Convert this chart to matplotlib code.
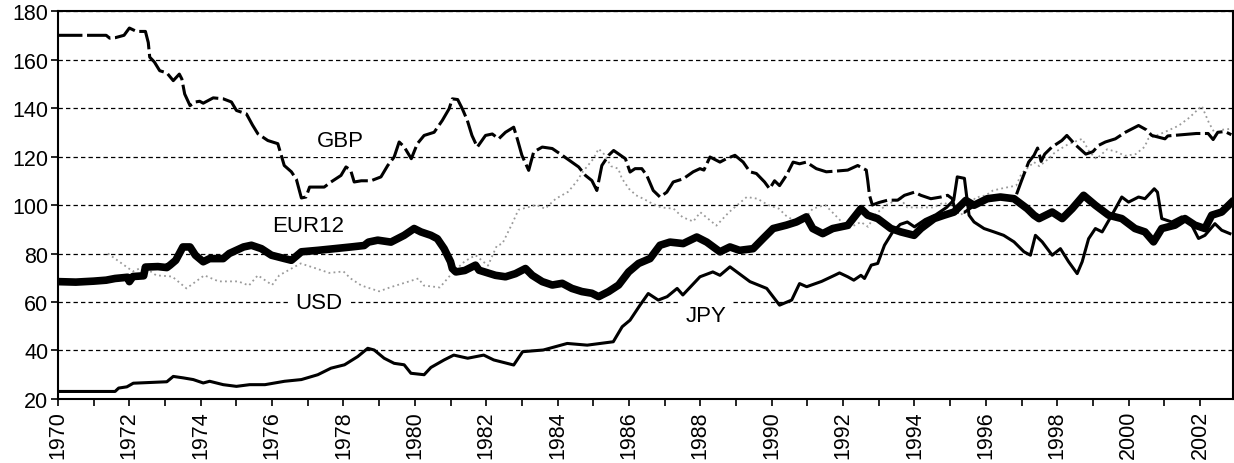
import matplotlib

matplotlib.use("Agg")
import matplotlib.pyplot as plt

plt.rcParams["font.family"] = ["Liberation Sans", "DejaVu Sans"]

# series (year, index)
gbp_years = [1970.0, 1970.5, 1971.0, 1971.35, 1971.45, 1971.6, 1971.85, 1972.0, 1972.2, 1972.45,
             1972.53, 1972.57, 1972.7, 1972.85, 1973.05, 1973.23, 1973.4, 1973.47, 1973.55, 1973.7,
             1973.85, 1973.97, 1974.07, 1974.35, 1974.63, 1974.86, 1975.0, 1975.28, 1975.45, 1975.6,
             1975.88, 1976.16, 1976.34, 1976.54, 1976.68, 1976.82, 1976.95, 1977.05, 1977.46, 1977.65,
             1977.93, 1978.07, 1978.2, 1978.3, 1978.5, 1978.77, 1979.05, 1979.24, 1979.42, 1979.56,
             1979.7, 1979.9, 1980.07, 1980.26, 1980.54, 1980.77, 1980.96, 1981.05, 1981.2, 1981.33,
             1981.47, 1981.6, 1981.75, 1981.98, 1982.17, 1982.35, 1982.54, 1982.77, 1982.87, 1983.0,
             1983.19, 1983.33, 1983.57, 1983.85, 1984.13, 1984.4, 1984.59, 1984.78, 1984.96, 1985.1,
             1985.24, 1985.43, 1985.57, 1985.9, 1986.03, 1986.17, 1986.36, 1986.5, 1986.68, 1986.87,
             1987.06, 1987.24, 1987.52, 1987.8, 1987.99, 1988.1, 1988.27, 1988.55, 1988.73, 1988.97,
             1989.2, 1989.39, 1989.57, 1989.8, 1989.94, 1990.08, 1990.22, 1990.41, 1990.6, 1990.78,
             1990.97, 1991.25, 1991.53, 1991.81, 1992.13, 1992.41, 1992.65, 1992.69, 1992.74, 1992.82,
             1993.0, 1993.25, 1993.53, 1993.72, 1994.0, 1994.18, 1994.46, 1994.74, 1994.93, 1995.06,
             1995.15, 1995.4, 1995.6, 1995.8, 1996.0, 1996.3, 1996.6, 1996.85, 1997.0, 1997.2,
             1997.35, 1997.45, 1997.55, 1997.65, 1997.85, 1998.13, 1998.27, 1998.5, 1998.8, 1999.0,
             1999.16, 1999.35, 1999.63, 1999.91, 2000.28, 2000.5, 2000.65, 2001.02, 2001.1, 2001.5,
             2001.9, 2002.23, 2002.37, 2002.5, 2002.7, 2002.88]
gbp_values = [170, 170, 170, 170, 168.8, 169, 170, 173, 171.6, 171.6,
              167, 161, 159, 155.4, 154.5, 151.3, 154, 152, 145.8, 141,
              142.5, 142.8, 142, 144.2, 143.8, 142.5, 139, 137.6, 133, 129.4,
              126.6, 125.3, 116.3, 113.7, 110.6, 102.9, 103.3, 107.4, 107.4, 109.5,
              112.2, 115.7, 114.4, 109.5, 110, 110, 111.6, 116.3, 119.8, 126,
              124, 119.1, 125.3, 128.7, 130, 134.9, 139.7, 143.8, 143.5, 139.7,
              134.9, 128.7, 123.9, 128.7, 129.3, 127.3, 130, 132.1, 127.3, 120.5,
              114.3, 121.9, 123.9, 123.3, 120.5, 117.7, 115.7, 112.2, 110.1, 106,
              116.3, 120.5, 122.5, 119.1, 113.6, 115, 115, 112.2, 106, 103.3,
              105.3, 109.5, 110.8, 113.7, 115, 114.4, 119.8, 117.7, 119.1, 120.5,
              117.7, 113.7, 113, 109.5, 106.7, 110, 108, 112.2, 117.7, 117,
              117.7, 115, 113.7, 114, 114.4, 116.3, 114.4, 110.2, 104, 100,
              101, 102, 102, 104, 105.3, 104, 102.6, 103.3, 104, 102.6,
              97.2, 97, 99, 101, 102, 103, 102.5, 104, 110, 117.7,
              120.5, 123.5, 118, 121, 123.9, 126.6, 128.7, 125, 121, 122,
              124.6, 126, 127.3, 130, 132.8, 131, 128.7, 127.3, 128.5, 129,
              129.5, 129.5, 127, 130, 130.3, 129]

eur_years = [1970.0, 1970.5, 1971.0, 1971.35, 1971.6, 1971.95, 1972.0, 1972.1, 1972.4, 1972.45,
             1972.8, 1973.05, 1973.14, 1973.3, 1973.5, 1973.7, 1973.85, 1974.07, 1974.25, 1974.63,
             1974.8, 1975.2, 1975.42, 1975.7, 1975.98, 1976.35, 1976.54, 1976.82, 1977.28, 1977.75,
             1978.21, 1978.58, 1978.7, 1978.96, 1979.33, 1979.7, 1979.98, 1980.17, 1980.45, 1980.63,
             1980.82, 1981.0, 1981.05, 1981.15, 1981.4, 1981.7, 1981.8, 1982.26, 1982.54, 1982.82,
             1983.1, 1983.29, 1983.57, 1983.85, 1984.13, 1984.4, 1984.68, 1984.96, 1985.15, 1985.43,
             1985.71, 1985.99, 1986.27, 1986.59, 1986.87, 1987.15, 1987.52, 1987.9, 1988.18, 1988.55,
             1988.83, 1989.1, 1989.48, 1989.76, 1990.04, 1990.41, 1990.69, 1990.97, 1991.15, 1991.43,
             1991.71, 1992.13, 1992.5, 1992.69, 1992.97, 1993.34, 1993.62, 1993.99, 1994.18, 1994.55,
             1994.83, 1995.11, 1995.44, 1995.67, 1996.04, 1996.41, 1996.79, 1997.16, 1997.35, 1997.49,
             1997.86, 1998.14, 1998.42, 1998.74, 1999.07, 1999.44, 1999.81, 2000.18, 2000.46, 2000.7,
             2000.93, 2001.3, 2001.58, 2001.86, 2002.14, 2002.33, 2002.61, 2002.88]
eur_values = [68.4, 68.2, 68.6, 69, 69.7, 70.2, 68.4, 70.5, 70.8, 74.4,
              74.6, 74.2, 75.2, 77.2, 82.7, 82.7, 79.3, 76.6, 77.9, 77.9,
              80, 82.7, 83.4, 82, 79.3, 77.9, 77.2, 80.7, 81.3, 82,
              82.7, 83.3, 84.7, 85.5, 84.7, 87.5, 90.3, 88.9, 87.5, 86.1,
              82, 76.6, 73.8, 72.4, 73, 75.2, 73.1, 71, 70.4, 71.7,
              73.8, 71, 68.4, 67, 67.7, 65.6, 64.3, 63.6, 62.2, 64.3,
              67, 72.4, 75.9, 77.9, 83.4, 84.7, 84.1, 86.8, 84.7, 80.7,
              82.7, 81.3, 82, 86.2, 90.3, 91.7, 93, 95.1, 90.3, 88.2,
              90.3, 91.6, 98.5, 95.8, 94.4, 90.3, 88.9, 87.5, 90.3, 94.4,
              95.8, 97.1, 101.9, 99.9, 102.6, 103.3, 102.6, 98.5, 95.8, 94.4,
              97.1, 94.4, 98.5, 104, 99.9, 95.8, 94.4, 90.3, 88.9, 84.8,
              90.3, 91.7, 94.4, 91.7, 90.3, 95.8, 97.1, 101]

usd_years = [1971.4, 1971.7, 1972.1, 1972.4, 1972.75, 1973.2, 1973.6, 1974.1, 1974.5, 1975.05,
             1975.35, 1975.6, 1976.0, 1976.2, 1976.8, 1977.2, 1977.6, 1978.0, 1978.2, 1978.5,
             1979.0, 1979.3, 1980.1, 1980.25, 1980.7, 1981.05, 1981.4, 1981.7, 1982.05, 1982.3,
             1982.45, 1982.75, 1982.9, 1983.4, 1983.65, 1983.95, 1984.3, 1984.55, 1984.7, 1985.0,
             1985.15, 1985.3, 1985.5, 1985.7, 1985.8, 1986.0, 1986.2, 1986.4, 1986.6, 1986.9,
             1987.25, 1987.5, 1987.8, 1988.0, 1988.45, 1988.8, 1989.3, 1989.6, 1989.9, 1990.2,
             1990.4, 1990.8, 1991.15, 1991.5, 1991.9, 1992.1, 1992.5, 1992.7, 1992.9, 1993.2,
             1993.6, 1993.8, 1994.2, 1994.55, 1994.8, 1995.0, 1995.3, 1995.5, 1995.7, 1996.0,
             1996.2, 1996.5, 1996.85, 1997.0, 1997.35, 1997.5, 1997.75, 1997.95, 1998.3, 1998.7,
             1998.9, 1999.1, 1999.4, 1999.65, 1999.9, 2000.2, 2000.45, 2000.55, 2001.0, 2001.4,
             2001.7, 2002.05, 2002.25, 2002.45, 2002.6, 2002.9]
usd_values = [80, 76.8, 72.6, 74.6, 71, 70.5, 65.6, 71, 68.5, 68.5,
              66.8, 71, 67, 71, 75.9, 74, 72, 72.6, 69.7, 66.8,
              64.4, 66, 69.7, 66.8, 66, 72, 76.8, 79.3, 75, 83.3,
              84, 93, 98, 100, 98.5, 102.6, 105.5, 110, 113.6, 119,
              123.2, 121, 116, 115, 111, 106.7, 104, 102.6, 101, 99,
              98.5, 95, 93.2, 97, 91.5, 97, 103.3, 102.6, 100, 98.5,
              95.6, 92, 98.5, 100, 94, 90, 93, 91, 96, 100,
              102.6, 99, 99, 99, 101, 100, 96, 98, 103, 104,
              106, 107, 108, 113, 117.7, 116, 119, 121.9, 125, 127.3,
              122, 119, 123, 122, 120.3, 121, 124, 127.3, 130, 132.7,
              136, 140.9, 134, 128.7, 131, 131.5]

jpy_years = [1970.0, 1971.6, 1971.7, 1971.93, 1972.11, 1973.05, 1973.23, 1973.51, 1973.79, 1974.07,
             1974.25, 1974.63, 1975.0, 1975.37, 1975.8, 1976.35, 1976.82, 1977.28, 1977.65, 1978.03,
             1978.4, 1978.68, 1978.86, 1979.14, 1979.42, 1979.7, 1979.89, 1980.26, 1980.45, 1980.82,
             1981.09, 1981.48, 1981.93, 1982.21, 1982.77, 1983.02, 1983.6, 1984.27, 1984.83, 1985.56,
             1985.81, 1986.03, 1986.31, 1986.54, 1986.82, 1987.07, 1987.35, 1987.51, 1987.99, 1988.35,
             1988.55, 1988.83, 1989.39, 1989.86, 1990.22, 1990.56, 1990.78, 1990.98, 1991.4, 1991.76,
             1991.9, 1992.13, 1992.3, 1992.5, 1992.6, 1992.79, 1992.97, 1993.16, 1993.39, 1993.6,
             1993.8, 1994.0, 1994.3, 1994.6, 1994.9, 1995.1, 1995.2, 1995.4, 1995.53, 1995.67,
             1995.95, 1996.23, 1996.5, 1996.79, 1997.07, 1997.25, 1997.39, 1997.58, 1997.86, 1998.09,
             1998.32, 1998.56, 1998.7, 1998.88, 1999.07, 1999.26, 1999.53, 1999.81, 2000.0, 2000.28,
             2000.46, 2000.72, 2000.81, 2000.93, 2001.21, 2001.49, 2001.77, 2001.96, 2002.14, 2002.42,
             2002.61, 2002.84]
jpy_values = [23.1, 23.1, 24.5, 25, 26.5, 27.1, 29.3, 28.7, 28, 26.6,
              27.3, 25.9, 25.2, 25.9, 25.9, 27.3, 28, 30, 32.7, 34.1,
              37.5, 40.9, 40.2, 36.8, 34.7, 34.1, 30.6, 30, 33, 36.1,
              38.1, 36.8, 38.1, 36.1, 34, 39.5, 40.2, 42.9, 42.2, 43.6,
              49.8, 52.5, 58.7, 63.5, 60.8, 62.2, 65.6, 62.9, 70.4, 72.4,
              71, 74.5, 68.4, 65.6, 58.7, 60.8, 67.6, 66.3, 68.5, 71,
              72, 70.4, 69, 71, 69.7, 75.2, 75.9, 83.4, 88.9, 92,
              93, 91, 94, 96, 99, 102, 111.6, 111, 95.8, 93,
              90.3, 88.9, 87.5, 84.8, 80.7, 79.3, 87.5, 84.8, 79.3, 82,
              76.6, 71.7, 76.6, 86.1, 90.3, 88.9, 95.8, 103.3, 101.2, 103.3,
              102.6, 106.7, 105.3, 94.4, 93, 95.1, 91.7, 86.2, 87.5, 92.3,
              89.6, 88.2]

labels = ["GBP", "EUR12", "USD", "JPY"]
label_x = [1977.9, 1977.0, 1977.3, 1988.15]
label_y = [126.5, 91.7, 59.8, 54.5]

year_ticks = list(range(1970, 2003))
value_ticks = list(range(20, 181, 20))


def main() -> None:
    fig = plt.figure(figsize=(12.34, 4.64), dpi=100)
    ax = fig.add_axes([0.047, 0.138, 0.952, 0.836])

    ax.plot(usd_years, usd_values, color="#9a9a9a", lw=1.3,
            linestyle=(0, (1, 1.8)), zorder=2)
    ax.plot(jpy_years, jpy_values, color="black", lw=2.2, zorder=3)
    ax.plot(gbp_years, gbp_values, color="black", lw=2.2,
            linestyle=(0, (8, 1.5)), zorder=3)
    ax.plot(eur_years, eur_values, color="black", lw=5.5, zorder=4,
            solid_joinstyle="round")

    for text, x, y in zip(labels, label_x, label_y):
        ax.text(x, y, text, fontsize=16, ha="center", va="center", zorder=5,
                bbox=dict(facecolor="white", edgecolor="none", pad=4))

    ax.set_xlim(1970, 2002.92)
    ax.set_ylim(20, 180)
    ax.set_yticks(value_ticks)
    ax.set_xticks(year_ticks)
    ax.set_xticklabels([str(y) if y % 2 == 0 else "" for y in year_ticks],
                       rotation=90)
    ax.tick_params(axis="both", direction="out", length=5, width=1.2,
                   labelsize=15.5, color="black")
    ax.tick_params(axis="x", pad=3)
    ax.tick_params(axis="y", pad=2)

    ax.grid(axis="y", color="black", lw=0.9, linestyle=(0, (3.5, 2.5)))
    ax.set_axisbelow(True)
    for spine in ax.spines.values():
        spine.set_linewidth(1.5)
        spine.set_color("black")

    fig.savefig("out.png", dpi=100)


if __name__ == "__main__":
    main()
